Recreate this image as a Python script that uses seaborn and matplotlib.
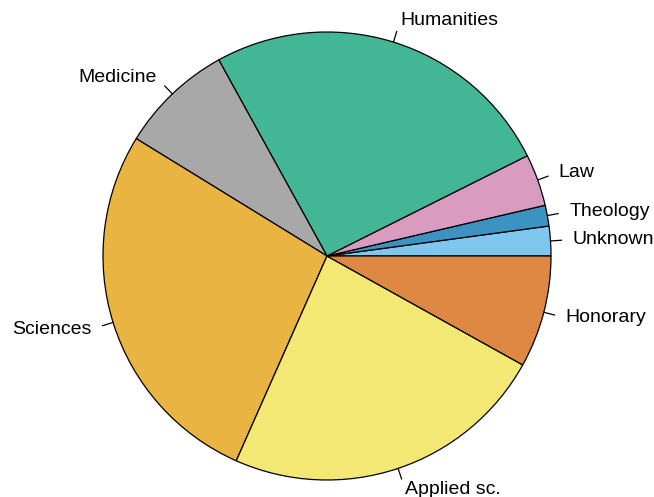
import numpy as np
import matplotlib
matplotlib.use("Agg")
import matplotlib.pyplot as plt
import seaborn as sns

# slice data (degrees of the full circle)
faculties = ["Unknown", "Theology", "Law", "Humanities", "Medicine",
             "Sciences", "Applied sc.", "Honorary"]
counts = [7.7, 5.4, 13.5, 92.3, 29.5, 97.7, 84.8, 29.1]
colors = ["#80C7EF", "#3C93C2", "#D99BBF", "#42B695", "#A8A8A8",
          "#E9B441", "#F2E873", "#DE8843"]

sns.set_theme(style="white")
plt.rcParams['font.family'] = ['Liberation Sans', 'DejaVu Sans']

fig = plt.figure(figsize=(6.54, 4.97), dpi=100)
ax = fig.add_axes([0, 0, 1, 1])

wedges, texts = ax.pie(counts, labels=faculties, colors=colors, startangle=0,
                       counterclock=True, labeldistance=1.1,
                       wedgeprops=dict(edgecolor="black", linewidth=0.9),
                       textprops=dict(fontsize=14, color="black"))

# R-style tick marks from the rim outwards
for w in wedges:
    mid = np.deg2rad((w.theta1 + w.theta2) / 2)
    ax.plot([np.cos(mid), 1.05 * np.cos(mid)], [np.sin(mid), 1.05 * np.sin(mid)],
            color="black", lw=0.9)

r_px = 224
ax.set_xlim(-327 / r_px, 327 / r_px)
ax.set_ylim(-241 / r_px, 256 / r_px)
ax.set_aspect("auto")
ax.axis("off")

fig.savefig("out.png", dpi=100, facecolor="white")
